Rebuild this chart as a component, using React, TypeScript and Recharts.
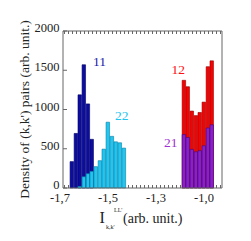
import { BarChart, Bar, XAxis, YAxis, Customized } from "recharts";

// bin centres (x) and counts
const leftBins = [-1.65, -1.633, -1.617, -1.6, -1.583, -1.567, -1.55, -1.533, -1.517, -1.5, -1.483, -1.467, -1.45, -1.433];
const pairs11 = [336, 695, 1187, 1570, 1071, 620, null, null, null, null, null, null, null, null];
const pairs22 = [null, null, 20, 143, 182, 212, 272, 348, 495, 838, 658, 588, 576, 508];

const rightBins = [-1.183, -1.167, -1.15, -1.133, -1.117, -1.1, -1.083, -1.067];
const pairs12 = [1372, 1290, 980, 922, 962, 1094, 1545, 1620];
const pairs21 = [681, 644, 492, 461, 475, 538, 764, 805];

const xMajorTicks = [-1.7, -1.5, -1.3, -1.1];
const xTickLabels = ["-1,7", "-1,5", "-1,3", "-1,0"];
const yTicks = [0, 500, 1000, 1500, 2000];

const rows = [
  ...leftBins.map((x, i) => ({ x, n11: pairs11[i], n22: pairs22[i] })),
  ...rightBins.map((x, i) => ({ x, n12: pairs12[i], n21: pairs21[i] })),
];

// small inward ticks every 1/60 along top and bottom
const minorTicks = Array.from({ length: 40 }, (_, k) => -1.7 + (k + 1) / 60);

const W = 251;
const H = 241;
const M = { top: 30, right: 28, bottom: 33, left: 0 };
const PLOT = { left: 63, right: 222, top: 31, bottom: 188 };
const PLOT_H = PLOT.bottom - PLOT.top;
const FRAME = "#666";
const SERIF = "'Liberation Serif', 'DejaVu Serif', serif";
const X_DOMAIN: [number, number] = [-1.6875, -1.025];

function BottomLabel({ x, y, payload }: any) {
  const i = xMajorTicks.indexOf(payload.value);
  return (
    <text x={x} y={y + 13.5} textAnchor="middle" fontSize={12.5} fontFamily={SERIF} fill="#222">
      {xTickLabels[i]}
    </text>
  );
}

function LeftTick({ x, y, payload }: any) {
  return (
    <g>
      <line x1={x} x2={x + 4} y1={y} y2={y} stroke={FRAME} strokeWidth={1} />
      <text x={x - 3.5} y={y + 1} textAnchor="end" fontSize={12.5} fontFamily={SERIF} fill="#222">
        {payload.value}
      </text>
    </g>
  );
}

function RightTick({ x, y }: any) {
  return <line x1={x} x2={x - 4} y1={y} y2={y} stroke={FRAME} strokeWidth={1} />;
}

function MinorTicks() {
  const k = (PLOT.right - PLOT.left) / (X_DOMAIN[1] - X_DOMAIN[0]);
  return (
    <g stroke="#666" strokeWidth={1}>
      {minorTicks.map((v) => {
        const px = Math.round(PLOT.left + (v - X_DOMAIN[0]) * k) + 0.5;
        return (
          <g key={v}>
            <line x1={px} x2={px} y1={PLOT.bottom} y2={PLOT.bottom - 3} />
            <line x1={px} x2={px} y1={PLOT.top} y2={PLOT.top + 3} />
          </g>
        );
      })}
    </g>
  );
}

function Texts() {
  const cy = PLOT.top + PLOT_H / 2;
  return (
    <g fontFamily={SERIF}>
      <text x={93} y={65.5} fontSize={13.5} fill="#1a1aa8">11</text>
      <text x={115} y={119.5} fontSize={13.5} fill="#22c4f0">22</text>
      <text x={171.5} y={74} fontSize={13.5} fill="#ff1010">12</text>
      <text x={164} y={146.5} fontSize={13.5} fill="#a030d4">21</text>
      <text
        x={24}
        y={cy}
        transform={`rotate(-90 24 ${cy})`}
        textAnchor="middle"
        dominantBaseline="central"
        fontSize={13.5}
        fill="#222"
      >
        Density of (k,k') pairs (arb. unit.)
      </text>
      <text x={99.5} y={223} fontSize={16} fill="#222">I</text>
      <text x={106} y={229} fontSize={6} fill="#222">k,k'</text>
      <text x={114} y={212} fontSize={6} fill="#222">LL'</text>
      <text x={123} y={223} fontSize={14} fill="#222">(arb. unit.)</text>
    </g>
  );
}

export default function App() {
  return (
    <div style={{ width: W, height: H }}>
      <style>{"body{margin:0}"}</style>
      <BarChart width={W} height={H} data={rows} margin={M}>
        <XAxis
          xAxisId="b"
          dataKey="x"
          type="number"
          domain={X_DOMAIN}
          allowDataOverflow
          ticks={xMajorTicks}
          interval={0}
          height={20}
          tickSize={0}
          tickMargin={0}
          tickLine={false}
          tick={BottomLabel}
          axisLine={{ stroke: FRAME }}
        />
        <XAxis
          xAxisId="t"
          orientation="top"
          dataKey="x"
          type="number"
          domain={X_DOMAIN}
          allowDataOverflow
          height={1}
          tick={false}
          tickLine={false}
          axisLine={{ stroke: FRAME }}
        />
        <XAxis xAxisId="h1" dataKey="x" type="number" domain={X_DOMAIN} allowDataOverflow hide />
        <XAxis xAxisId="h2" dataKey="x" type="number" domain={X_DOMAIN} allowDataOverflow hide />
        <YAxis
          domain={[0, 2000]}
          ticks={yTicks}
          interval={0}
          width={63}
          tickSize={0}
          tickMargin={0}
          tickLine={false}
          tick={LeftTick}
          axisLine={{ stroke: FRAME }}
        />
        <YAxis
          yAxisId="r"
          orientation="right"
          domain={[0, 2000]}
          ticks={yTicks}
          interval={0}
          width={1}
          tickSize={0}
          tickMargin={0}
          tickLine={false}
          tick={RightTick}
          axisLine={{ stroke: FRAME }}
        />
        <Bar xAxisId="b" dataKey="n11" barSize={4} fill="#0a0ca4" stroke="#00005a" strokeWidth={0.6} isAnimationActive={false} />
        <Bar xAxisId="h1" dataKey="n12" barSize={4} fill="#fa0000" stroke="#8a0000" strokeWidth={0.6} isAnimationActive={false} />
        <Bar xAxisId="t" dataKey="n22" barSize={4} fill="#1ec6f2" stroke="#0a7ea2" strokeWidth={0.6} isAnimationActive={false} />
        <Bar xAxisId="h2" dataKey="n21" barSize={4} fill="#8a1ed0" stroke="#460a74" strokeWidth={0.6} isAnimationActive={false} />
        <Customized component={MinorTicks} />
        <Customized component={Texts} />
      </BarChart>
    </div>
  );
}
